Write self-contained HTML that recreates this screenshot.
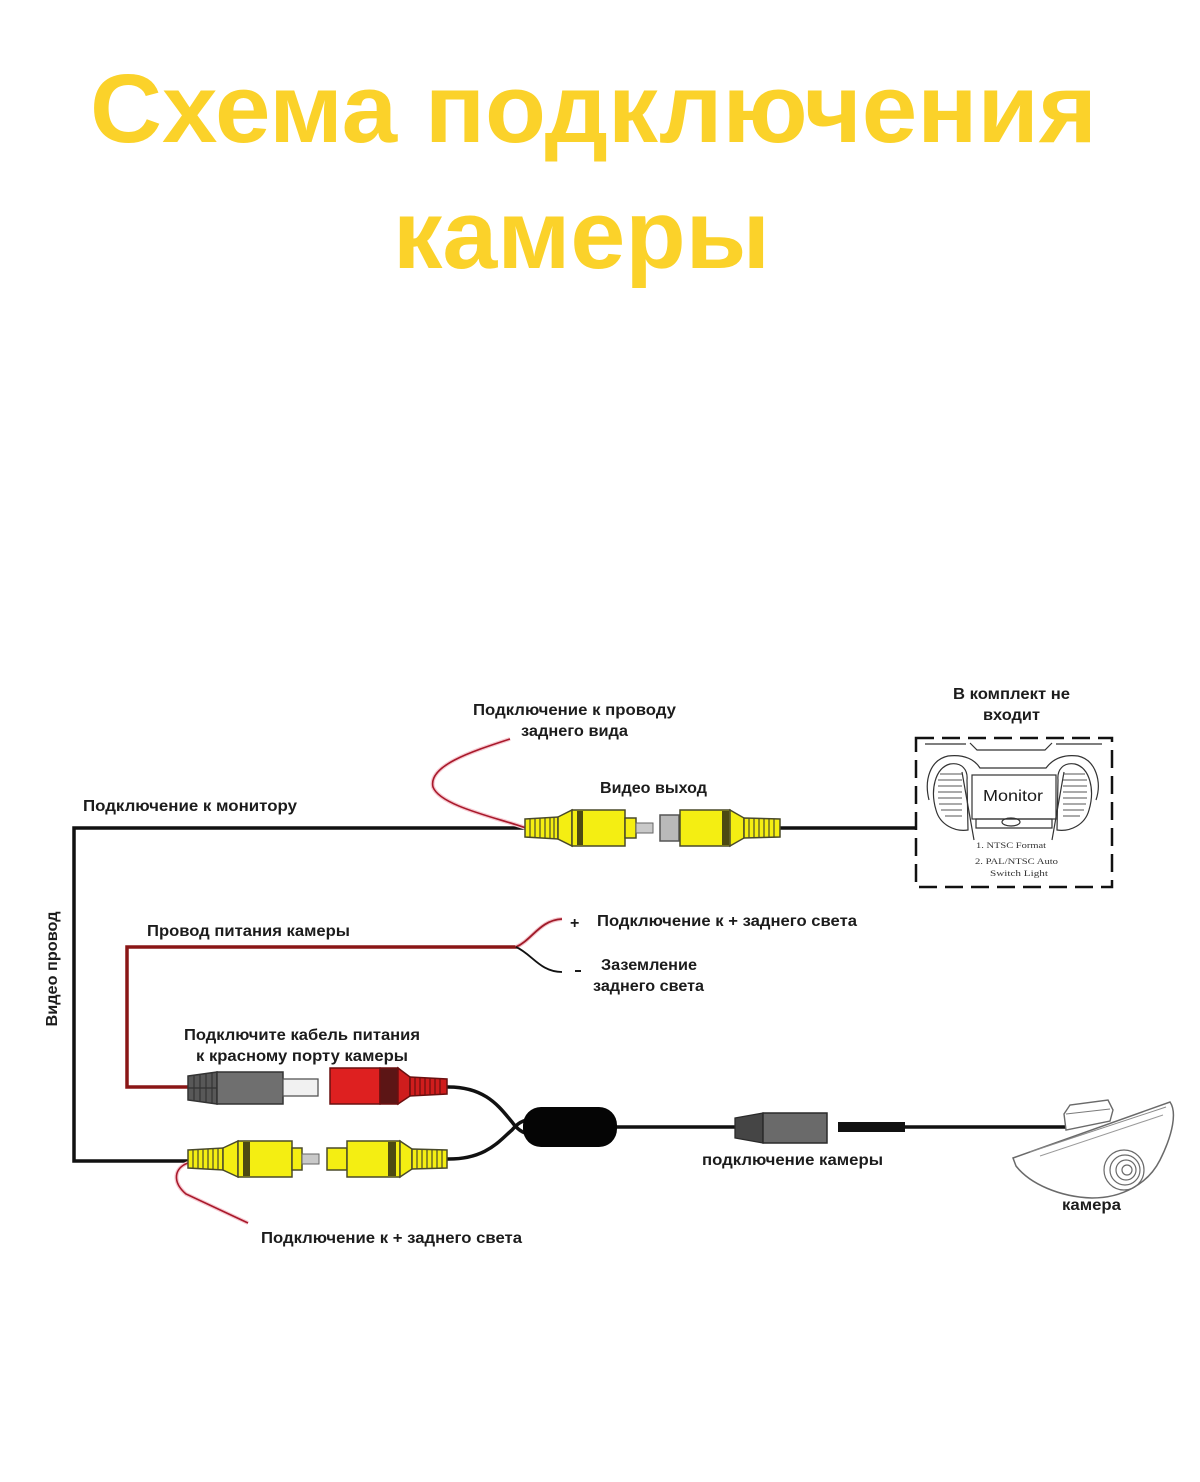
<!DOCTYPE html>
<html>
<head>
<meta charset="utf-8">
<style>
  html,body{margin:0;padding:0;background:#fff;}
  svg{display:block;}
  .t{font-family:"Liberation Sans","DejaVu Sans",sans-serif;font-weight:bold;font-size:16px;fill:#1c1c1c;}
  .title{font-family:"Liberation Sans","DejaVu Sans",sans-serif;font-weight:bold;font-size:97px;fill:#FBD22A;}
  .y{fill:#F4EE12;stroke:#4a4a2a;stroke-width:1.5;}
  .band{fill:#4d4a12;}
  .rib{stroke:#4a4a2a;stroke-width:1.2;}
</style>
</head>
<body>
<svg width="1200" height="1482" viewBox="0 0 1200 1482" xmlns="http://www.w3.org/2000/svg">
  <rect width="1200" height="1482" fill="#fff"/>

  <!-- Title -->
  <text class="title" x="90" y="142" textLength="1007" lengthAdjust="spacingAndGlyphs">Схема подключения</text>
  <text class="title" x="393" y="268" textLength="377" lengthAdjust="spacingAndGlyphs">камеры</text>

  <!-- ===== Wires ===== -->
  <path d="M525,828 H74 V1161 H192" fill="none" stroke="#111" stroke-width="3.5"/>
  <path d="M780,828 H916" fill="none" stroke="#111" stroke-width="3.5"/>

  <path d="M190,1087 H127 V947 H517" fill="none" stroke="#8a1616" stroke-width="3.5"/>
  <path d="M516,947 C532,940 540,920 562,919" fill="none" stroke="#f3c3cb" stroke-width="4"/>
  <path d="M516,947 C532,940 540,920 562,919" fill="none" stroke="#a01a28" stroke-width="1.8"/>
  <path d="M516,947 C532,954 540,972 562,972" fill="none" stroke="#111" stroke-width="1.8"/>

  <path d="M510,739 C470,752 428,766 433,787 C440,806 498,818 526,828" fill="none" stroke="#f6c8d0" stroke-width="4"/>
  <path d="M510,739 C470,752 428,766 433,787 C440,806 498,818 526,828" fill="none" stroke="#a8182a" stroke-width="1.6"/>
  <path d="M188,1163 C174,1168 172,1182 186,1194 L248,1223" fill="none" stroke="#f6c8d0" stroke-width="4"/>
  <path d="M188,1163 C174,1168 172,1182 186,1194 L248,1223" fill="none" stroke="#a8182a" stroke-width="1.6"/>

  <path d="M446,1087 C486,1086 500,1108 512,1122 C517,1129 522,1133 532,1135" fill="none" stroke="#111" stroke-width="3.5"/>
  <path d="M446,1159 C486,1160 500,1140 512,1130 C517,1124 522,1120 532,1119" fill="none" stroke="#111" stroke-width="3.5"/>
  <rect x="523" y="1107" width="94" height="40" rx="18" fill="#050505"/>
  <path d="M617,1127 H736" stroke="#111" stroke-width="3.5"/>
  <path d="M905,1127 H1066" stroke="#111" stroke-width="3.5"/>

  <!-- ===== Top connectors ===== -->
  <polygon class="y" points="525,819 558,817 558,839 525,837"/>
  <g class="rib">
    <line x1="530" y1="819" x2="530" y2="837"/><line x1="535" y1="818.5" x2="535" y2="837.5"/>
    <line x1="540" y1="818.3" x2="540" y2="837.7"/><line x1="545" y1="818" x2="545" y2="838"/>
    <line x1="550" y1="817.6" x2="550" y2="838.4"/><line x1="554" y1="817.3" x2="554" y2="838.7"/>
  </g>
  <polygon class="y" points="558,817 572,810 572,846 558,839"/>
  <rect class="y" x="572" y="810" width="53" height="36"/>
  <rect class="band" x="577" y="811" width="6" height="34"/>
  <rect class="y" x="625" y="818" width="11" height="20"/>
  <rect x="636" y="823" width="17" height="10" fill="#c9c9c9" stroke="#666" stroke-width="1"/>
  <rect x="660" y="815" width="19" height="26" fill="#b9b9b9" stroke="#555" stroke-width="1.5"/>
  <rect class="y" x="680" y="810" width="50" height="36"/>
  <rect class="band" x="722" y="811" width="7" height="34"/>
  <polygon class="y" points="730,810 744,818 744,838 730,846"/>
  <polygon class="y" points="744,818 780,819 780,837 744,838"/>
  <g class="rib">
    <line x1="749" y1="818" x2="749" y2="838"/><line x1="754" y1="818" x2="754" y2="838"/>
    <line x1="759" y1="818.3" x2="759" y2="837.7"/><line x1="764" y1="818.5" x2="764" y2="837.5"/>
    <line x1="769" y1="818.7" x2="769" y2="837.3"/><line x1="774" y1="819" x2="774" y2="837"/>
  </g>

  <!-- ===== Power connectors ===== -->
  <polygon points="188,1076 217,1072 217,1104 188,1100" fill="#585858" stroke="#333" stroke-width="1.5"/>
  <g stroke="#333" stroke-width="1.2">
    <line x1="194" y1="1075" x2="194" y2="1101"/><line x1="200" y1="1074" x2="200" y2="1102"/>
    <line x1="206" y1="1073.5" x2="206" y2="1102.5"/><line x1="212" y1="1073" x2="212" y2="1103"/>
    <line x1="188" y1="1088" x2="217" y2="1088"/>
  </g>
  <rect x="217" y="1072" width="66" height="32" fill="#6f6f6f" stroke="#333" stroke-width="1.5"/>
  <rect x="283" y="1079" width="35" height="17" fill="#f1f1f1" stroke="#555" stroke-width="1.3"/>
  <rect x="330" y="1068" width="50" height="36" fill="#de2020" stroke="#6a1010" stroke-width="1.5"/>
  <rect x="380" y="1068" width="18" height="36" fill="#5c1515" stroke="#6a1010" stroke-width="1.5"/>
  <polygon points="398,1068 410,1077 410,1096 398,1104" fill="#cf1d1d" stroke="#6a1010" stroke-width="1.5"/>
  <polygon points="410,1077 447,1079 447,1094 410,1096" fill="#cf1d1d" stroke="#6a1010" stroke-width="1.5"/>
  <g stroke="#6a1010" stroke-width="1.2">
    <line x1="415" y1="1077" x2="415" y2="1096"/><line x1="420" y1="1077.3" x2="420" y2="1095.7"/>
    <line x1="425" y1="1077.6" x2="425" y2="1095.4"/><line x1="430" y1="1078" x2="430" y2="1095"/>
    <line x1="435" y1="1078.3" x2="435" y2="1094.7"/><line x1="440" y1="1078.6" x2="440" y2="1094.4"/>
  </g>

  <!-- ===== Bottom yellow connectors ===== -->
  <polygon class="y" points="188,1150 223,1148 223,1170 188,1168"/>
  <g class="rib">
    <line x1="193" y1="1150" x2="193" y2="1168"/><line x1="198" y1="1149.7" x2="198" y2="1168.3"/>
    <line x1="203" y1="1149.4" x2="203" y2="1168.6"/><line x1="208" y1="1149" x2="208" y2="1169"/>
    <line x1="213" y1="1148.7" x2="213" y2="1169.3"/><line x1="218" y1="1148.3" x2="218" y2="1169.7"/>
  </g>
  <polygon class="y" points="223,1148 238,1141 238,1177 223,1170"/>
  <rect class="y" x="238" y="1141" width="54" height="36"/>
  <rect class="band" x="243" y="1142" width="7" height="34"/>
  <rect class="y" x="292" y="1148" width="10" height="22"/>
  <rect x="302" y="1154" width="17" height="10" fill="#c9c9c9" stroke="#666" stroke-width="1"/>

  <rect class="y" x="327" y="1148" width="20" height="22"/>
  <rect class="y" x="347" y="1141" width="53" height="36"/>
  <rect class="band" x="388" y="1142" width="8" height="34"/>
  <polygon class="y" points="400,1141 412,1149 412,1169 400,1177"/>
  <polygon class="y" points="412,1149 447,1150 447,1168 412,1169"/>
  <g class="rib">
    <line x1="417" y1="1149" x2="417" y2="1169"/><line x1="422" y1="1149" x2="422" y2="1169"/>
    <line x1="427" y1="1149.3" x2="427" y2="1168.7"/><line x1="432" y1="1149.5" x2="432" y2="1168.5"/>
    <line x1="437" y1="1149.7" x2="437" y2="1168.3"/><line x1="442" y1="1150" x2="442" y2="1168"/>
  </g>

  <!-- ===== Camera connector ===== -->
  <polygon points="735,1118 763,1113 763,1143 735,1138" fill="#454545" stroke="#2a2a2a" stroke-width="1.3"/>
  <rect x="763" y="1113" width="64" height="30" fill="#6a6a6a" stroke="#2a2a2a" stroke-width="1.5"/>
  <rect x="838" y="1122" width="67" height="10" fill="#111"/>

  <!-- ===== Camera ===== -->
  <path d="M1013,1158 L1170,1102 C1177,1112 1173,1134 1160,1160 C1148,1184 1122,1198 1092,1198 C1060,1197 1030,1184 1016,1166 Z" fill="#fff" stroke="#6a6a6a" stroke-width="1.5"/>
  <path d="M1030,1152 L1166,1107" fill="none" stroke="#8a8a8a" stroke-width="1"/>
  <path d="M1040,1156 L1163,1115" fill="none" stroke="#9a9a9a" stroke-width="1"/>
  <polygon points="1064,1114 1070,1105 1108,1100 1113,1110 1110,1121 1066,1130" fill="#fff" stroke="#6a6a6a" stroke-width="1.4"/>
  <path d="M1066,1114 L1110,1109" stroke="#7a7a7a" stroke-width="1"/>
  <g fill="none" stroke="#6a6a6a" stroke-width="1.2">
    <circle cx="1124" cy="1170" r="20"/>
    <circle cx="1125" cy="1170" r="15"/>
    <circle cx="1126" cy="1170" r="10"/>
    <circle cx="1127" cy="1170" r="5"/>
  </g>

  <!-- ===== Monitor (dashed box) ===== -->
  <rect x="916" y="738" width="196" height="149" fill="none" stroke="#111" stroke-width="2.5" stroke-dasharray="18 8"/>
  <g fill="none" stroke="#333" stroke-width="1.2">
    <path d="M925,744 H966 M970,743 L977,750 H1045 L1052,743 M1056,744 H1102"/>
    <path d="M929,800 C924,780 930,760 948,756 C965,754 975,760 980,768 H1046 C1052,760 1062,754 1078,756 C1096,760 1102,782 1096,800"/>
    <path d="M936,810 C930,790 935,768 950,764 C962,762 968,770 967,780 L968,830 C955,832 940,825 936,810 Z"/>
    <path d="M1089,810 C1095,790 1090,768 1075,764 C1063,762 1057,770 1058,780 L1057,830 C1070,832 1085,825 1089,810 Z"/>
    <path d="M962,772 L974,840 M1064,772 L1052,840"/>
    <rect x="972" y="775" width="84" height="44"/>
    <path d="M976,819 H1052 V828 H976 Z"/>
    <ellipse cx="1011" cy="822" rx="9" ry="4"/>
  </g>
  <g stroke="#555" stroke-width="1">
    <line x1="940" y1="774" x2="962" y2="774"/><line x1="938" y1="780" x2="962" y2="780"/>
    <line x1="938" y1="786" x2="962" y2="786"/><line x1="938" y1="792" x2="962" y2="792"/>
    <line x1="938" y1="798" x2="962" y2="798"/><line x1="939" y1="804" x2="962" y2="804"/>
    <line x1="941" y1="810" x2="962" y2="810"/><line x1="945" y1="816" x2="962" y2="816"/>
    <line x1="1063" y1="774" x2="1085" y2="774"/><line x1="1063" y1="780" x2="1087" y2="780"/>
    <line x1="1063" y1="786" x2="1087" y2="786"/><line x1="1063" y1="792" x2="1087" y2="792"/>
    <line x1="1063" y1="798" x2="1087" y2="798"/><line x1="1063" y1="804" x2="1086" y2="804"/>
    <line x1="1063" y1="810" x2="1084" y2="810"/><line x1="1063" y1="816" x2="1080" y2="816"/>
  </g>
  <text x="983" y="801" font-family="Liberation Sans, sans-serif" font-size="16" fill="#1a1a1a" textLength="60" lengthAdjust="spacingAndGlyphs">Monitor</text>
  <text x="976" y="848" font-family="Liberation Serif, serif" font-size="8.5" fill="#333" textLength="70" lengthAdjust="spacingAndGlyphs">1. NTSC Format</text>
  <text x="975" y="864" font-family="Liberation Serif, serif" font-size="8.5" fill="#333" textLength="83" lengthAdjust="spacingAndGlyphs">2. PAL/NTSC Auto</text>
  <text x="990" y="876" font-family="Liberation Serif, serif" font-size="8.5" fill="#333" textLength="58" lengthAdjust="spacingAndGlyphs">Switch Light</text>

  <!-- ===== Labels ===== -->
  <text class="t" x="473" y="715" textLength="203" lengthAdjust="spacingAndGlyphs">Подключение к проводу</text>
  <text class="t" x="521" y="736" textLength="107" lengthAdjust="spacingAndGlyphs">заднего вида</text>
  <text class="t" x="600" y="793" textLength="107" lengthAdjust="spacingAndGlyphs">Видео выход</text>
  <text class="t" x="953" y="699" textLength="117" lengthAdjust="spacingAndGlyphs">В комплект не</text>
  <text class="t" x="983" y="720" textLength="57" lengthAdjust="spacingAndGlyphs">входит</text>
  <text class="t" x="83" y="811" textLength="214" lengthAdjust="spacingAndGlyphs">Подключение к монитору</text>
  <text class="t" x="147" y="936" textLength="203" lengthAdjust="spacingAndGlyphs">Провод питания камеры</text>
  <text class="t" x="570" y="928" font-size="20">+</text>
  <text class="t" x="597" y="926" textLength="260" lengthAdjust="spacingAndGlyphs">Подключение к + заднего света</text>
  <rect x="575" y="970" width="6" height="2" fill="#1c1c1c"/>
  <text class="t" x="601" y="970" textLength="96" lengthAdjust="spacingAndGlyphs">Заземление</text>
  <text class="t" x="593" y="991" textLength="111" lengthAdjust="spacingAndGlyphs">заднего света</text>
  <text class="t" x="184" y="1040" textLength="236" lengthAdjust="spacingAndGlyphs">Подключите кабель питания</text>
  <text class="t" x="196" y="1061" textLength="212" lengthAdjust="spacingAndGlyphs">к красному порту камеры</text>
  <text class="t" x="702" y="1165" textLength="181" lengthAdjust="spacingAndGlyphs">подключение камеры</text>
  <text class="t" x="261" y="1243" textLength="261" lengthAdjust="spacingAndGlyphs">Подключение к + заднего света</text>
  <text class="t" x="1062" y="1210" textLength="59" lengthAdjust="spacingAndGlyphs">камера</text>
  <text class="t" transform="translate(57,969) rotate(-90)" x="0" y="0" text-anchor="middle" textLength="115" lengthAdjust="spacingAndGlyphs">Видео провод</text>
</svg>
</body>
</html>
